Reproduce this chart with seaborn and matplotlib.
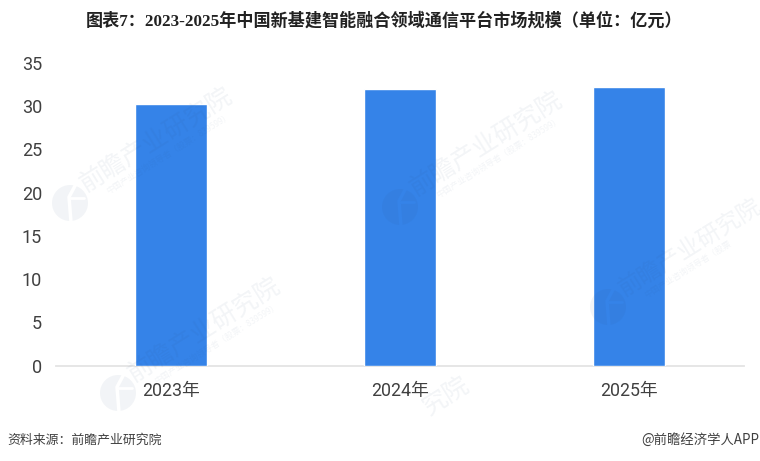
import matplotlib
matplotlib.use('Agg')
import matplotlib.pyplot as plt
import pandas as pd
import seaborn as sns
from matplotlib.lines import Line2D
from matplotlib.patches import Circle
from matplotlib.transforms import IdentityTransform

years = ['2023年', '2024年', '2025年']
market_size = [30.2, 32.0, 32.2]
y_ticks = [0, 5, 10, 15, 20, 25, 30, 35]

title = '图表7：2023-2025年中国新基建智能融合领域通信平台市场规模（单位：亿元）'
source = '资料来源：前瞻产业研究院'
credit = '@前瞻经济学人APP'
watermark = '前瞻产业研究院'
watermark_sub = '中国产业咨询领导者（股票：839599）'
watermark_sub_short = '中国产业咨询领导者（股票'

BAR_COLOR = '#3583E8'

sns.set_theme(style='white')
plt.rcParams['font.family'] = ['Roboto', 'Noto Sans CJK SC', 'DejaVu Sans']

W, H = 760, 461
fig = plt.figure(figsize=(W / 100, H / 100), dpi=100)
ax = fig.add_axes([56 / W, 1 - 365.5 / H, (744 - 56) / W, (365.5 - 63) / H])

df = pd.DataFrame({'year': years, 'size': market_size})
sns.barplot(data=df, x='year', y='size', color=BAR_COLOR, saturation=1,
            width=0.314, ax=ax, zorder=3)

ax.set_ylim(0, 35)
ax.set_yticks(y_ticks)
ax.set_xlabel('')
ax.set_ylabel('')
ax.tick_params(axis='x', length=0, labelsize=12.8, labelcolor='#404040', pad=12)
ax.tick_params(axis='y', length=0, labelsize=13, labelcolor='#404040', pad=10)
sns.despine(ax=ax, left=True)
ax.spines['bottom'].set_color('#E4E4E4')
ax.spines['bottom'].set_linewidth(1.3)

# faint watermarks laid over the chart
wm_color = '#2A4A7A'
wm_alpha = 0.06
wm_angle = 32
marks = [(70, 203, 'white', watermark_sub, 18),
         (400, 207, BAR_COLOR, watermark_sub, 18),
         (608, 307, BAR_COLOR, watermark_sub_short, 16.8),
         (118, 393, 'white', watermark_sub, 18)]
for x, y, cut, sub, size in marks:
    fig.add_artist(Circle((x, H - y), 18, color=wm_color, alpha=wm_alpha,
                          lw=0, transform=IdentityTransform(), zorder=10))
    fig.add_artist(Line2D([(x + 6) / W, (x - 1) / W, (x + 1) / W],
                          [1 - (y - 19) / H, 1 - (y - 6) / H, 1 - (y + 19) / H],
                          color=cut, lw=2.5, zorder=11))
    fig.add_artist(Line2D([(x - 1) / W, (x + 14) / W],
                          [1 - (y - 5) / H, 1 - (y - 5) / H],
                          color=cut, lw=2, zorder=11))
    fig.text((x + 19) / W, 1 - (y - 6) / H, watermark, fontsize=size, color=wm_color,
             alpha=wm_alpha, rotation=wm_angle, rotation_mode='anchor', ha='left', va='bottom',
             zorder=12, family=['Noto Sans CJK SC'])
    fig.text((x + 40) / W, 1 - (y - 7) / H, sub, fontsize=6, color=wm_color,
             alpha=wm_alpha, rotation=wm_angle, rotation_mode='anchor', ha='left', va='bottom',
             zorder=12, family=['Noto Sans CJK SC'])
# the one running off the bottom edge, only its end shows
fig.text(432 / W, 1 - 420 / H, watermark[-2:], fontsize=18, color=wm_color,
         alpha=wm_alpha, rotation=wm_angle, rotation_mode='anchor', ha='left', va='bottom',
         zorder=12, family=['Noto Sans CJK SC'])

fig.text(384 / W, 1 - 21 / H, title, ha='center', va='center', fontsize=12.3,
         weight='bold', color='#222222', family=['Liberation Serif', 'Noto Sans CJK SC'])
fig.text(7 / W, 1 - 440 / H, source, ha='left', va='center', fontsize=9.3,
         color='#404040', family=['Noto Sans CJK SC'])
fig.text(759 / W, 1 - 440 / H, credit, ha='right', va='center', fontsize=9.6,
         color='#404040', family=['Noto Sans CJK SC'])

fig.savefig('out.png', dpi=100)
